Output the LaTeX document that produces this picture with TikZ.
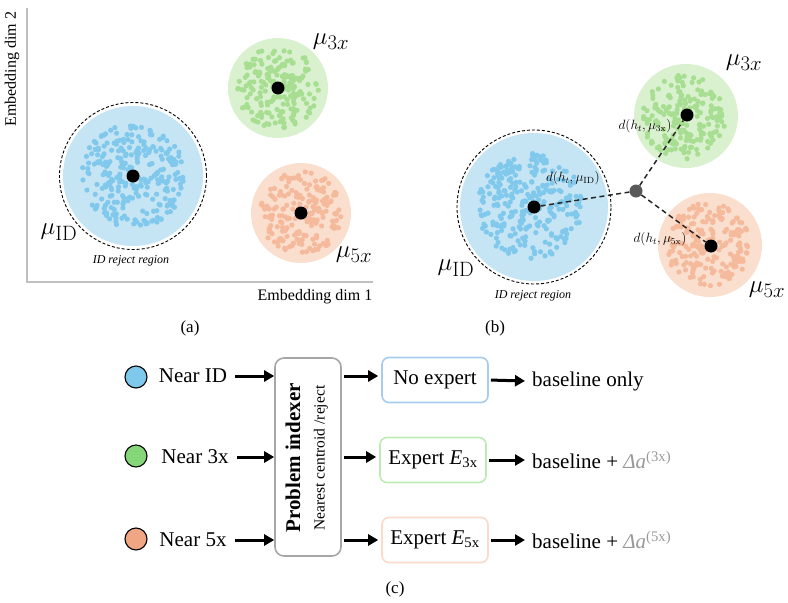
\documentclass[tikz,border=0pt]{standalone}
\usepackage{graphicx}
\usepackage[no-math]{fontspec}
\setmainfont{Liberation Serif}
\usetikzlibrary{arrows.meta}
\definecolor{bfill}{RGB}{197,228,244}
\definecolor{bdot}{RGB}{128,201,236}
\definecolor{gfill}{RGB}{217,241,207}
\definecolor{gdot}{RGB}{168,222,146}
\definecolor{ofill}{RGB}{251,223,206}
\definecolor{odot}{RGB}{245,186,156}
\definecolor{cblue}{RGB}{126,200,235}
\definecolor{cgreen}{RGB}{132,214,120}
\definecolor{corange}{RGB}{240,166,130}
\definecolor{bborder}{RGB}{166,205,240}
\definecolor{gborder}{RGB}{190,234,180}
\definecolor{oborder}{RGB}{251,218,200}
\newcommand\scatterdots[5]{%
  \foreach \i in {1,...,#4}{%
    \pgfmathsetmacro\rr{#3*sqrt(rnd)}%
    \pgfmathsetmacro\aa{360*rnd}%
    \fill[#5] ({#1+\rr*cos(\aa)},{#2+\rr*sin(\aa)}) circle[radius=2.6pt];}}
\newcommand\dlab[1]{\scalebox{1.12}{$#1$}}
\tikzset{
  centroid/.style={circle,fill=black,inner sep=0pt,minimum size=13pt},
  junction/.style={circle,fill=black!65,inner sep=0pt,minimum size=13pt},
  mulabel/.style={font=\fontsize{24.88}{28}\selectfont},
  dlabel/.style={font=\fontsize{12}{14}\selectfont},
  axlabel/.style={font=\fontsize{16}{19}\selectfont},
  rejlabel/.style={font=\fontsize{12}{14}\selectfont\itshape},
  caplabel/.style={font=\fontsize{17}{20}\selectfont},
  rowtext/.style={font=\fontsize{21}{24}\selectfont, inner sep=0pt},
  incirc/.style={circle,draw=black,line width=1.1pt,minimum size=22pt,inner sep=0pt},
  expbox/.style={draw,rounded corners=7pt,line width=1.6pt,minimum width=106pt,minimum height=45pt,font=\fontsize{21}{24}\selectfont,inner sep=0pt},
  arr/.style={line width=3pt,-{Triangle[length=10pt,width=11pt]}},
  dline/.style={line width=1.5pt,dash pattern=on 5pt off 3.5pt,black!85},
}
\begin{document}
\begin{tikzpicture}[x=1pt,y=-1pt]
\useasboundingbox (0,0) rectangle (788,603);
\pgfmathsetseed{4242}
% ---------------- panel (a)
\draw[black!25,line width=1.5pt] (27,8) -- (27,282) -- (373,282);
\node[axlabel,rotate=90] (ay) at (12,69) {Embedding dim 2};
\node[axlabel] (ax) at (315,297) {Embedding dim 1};
\fill[bfill] (133,176) circle[radius=70pt];
\draw[dashed,line width=0.9pt,dash pattern=on 3pt off 2pt] (133,176) circle[radius=73.5pt];
\fill[gfill] (278,88) circle[radius=50pt];
\fill[ofill] (301,213) circle[radius=50pt];
\scatterdots{133}{176}{52}{270}{bdot}
\scatterdots{278}{88}{41}{185}{gdot}
\scatterdots{301}{213}{42}{190}{odot}
\node[centroid] (a1) at (133,176) {};
\node[centroid] (a2) at (278,88) {};
\node[centroid] (a3) at (301,213) {};
\node[mulabel] (am3) at (331,42) {$\mu_{3x}$};
\node[mulabel] (amI) at (59,232) {$\mu_{\mathrm{ID}}$};
\node[mulabel] (am5) at (354,255) {$\mu_{5x}$};
\node[rejlabel] (arej) at (131,261) {ID reject region};
\node[caplabel] (capa) at (190,328) {(a)};
% ---------------- panel (b)
\fill[bfill] (534,207) circle[radius=74pt];
\draw[dashed,line width=0.9pt,dash pattern=on 3pt off 2pt] (534,207) circle[radius=77pt];
\fill[gfill] (686,116) circle[radius=52pt];
\fill[ofill] (710,245) circle[radius=52pt];
\scatterdots{530}{206}{53}{280}{bdot}
\scatterdots{684}{117}{42}{190}{gdot}
\scatterdots{708}{245}{42}{195}{odot}
\node[centroid] (b1) at (534,207) {};
\node[centroid] (b2) at (687,115) {};
\node[centroid] (b3) at (711,246) {};
\node[junction] (jn) at (636,191) {};
\draw[dline] (b1) -- (jn);
\draw[dline] (jn) -- (b2);
\draw[dline] (jn) -- (b3);
\node[dlabel] (dI) at (573,178) {\dlab{d(h_t,\mu_{\mathrm{ID}})}};
\node[dlabel] (d3) at (645,126) {\dlab{d(h_t,\mu_{\mathrm{3x}})}};
\node[dlabel] (d5) at (660,239) {\dlab{d(h_t,\mu_{\mathrm{5x}})}};
\node[mulabel] (bm3) at (744,63) {$\mu_{3x}$};
\node[mulabel] (bmI) at (456,268) {$\mu_{\mathrm{ID}}$};
\node[mulabel] (bm5) at (767,290) {$\mu_{5x}$};
\node[rejlabel] (brej) at (533,296) {ID reject region};
\node[caplabel] (capb) at (495,328) {(b)};
% ---------------- panel (c)
\node[incirc,fill=cblue] (c1) at (136,377) {};
\node[incirc,fill=cgreen] (c2) at (136,456) {};
\node[incirc,fill=corange] (c3) at (136,539) {};
\node[rowtext] (t1) at (193,376) {Near ID};
\node[rowtext] (t2) at (195,457) {Near 3x};
\node[rowtext] (t3) at (193,540) {Near 5x};
\node[draw=black!35,rounded corners=9pt,line width=1.6pt,minimum width=66pt,minimum height=198pt,inner sep=0pt] (pi) at (308,457) {};
\node[rotate=90,font=\fontsize{21}{24}\selectfont\bfseries] (pit) at (293,458) {Problem indexer};
\node[rotate=90,font=\fontsize{15.5}{18}\selectfont] (pis) at (321,458) {Nearest centroid /reject};
\draw[arr] ([xshift=8pt]t1.east) -- (t1.east -| pi.west);
\draw[arr] ([xshift=8pt]t2.east) -- (t2.east -| pi.west);
\draw[arr] ([xshift=8pt]t3.east) -- (t3.east -| pi.west);
\node[expbox,draw=bborder] (e1) at (435,380) {No expert};
\node[expbox,draw=gborder] (e2) at (433,460) {Expert \textit{E}\textsubscript{3x}};
\node[expbox,draw=oborder] (e3) at (435,540) {Expert \textit{E}\textsubscript{5x}};
\draw[arr,shorten <=2pt,shorten >=3pt] (pi.east |- t1) -- (e1.west |- t1);
\draw[arr,shorten <=2pt,shorten >=3pt] (pi.east |- t2) -- (e2.west |- t2);
\draw[arr,shorten <=2pt,shorten >=3pt] (pi.east |- t3) -- (e3.west |- t3);
\node[rowtext,anchor=west] (r1) at (532,381) {baseline only};
\node[rowtext,anchor=west] (r2) at (532,460) {baseline + \textcolor{black!40}{\textit{Δa}\textsuperscript{(3x)}}};
\node[rowtext,anchor=west] (r3) at (532,540) {baseline + \textcolor{black!40}{\textit{Δa}\textsuperscript{(5x)}}};
\draw[arr,shorten <=2pt] (e1.east) -- ([xshift=-7pt]r1.west);
\draw[arr,shorten <=2pt] (e2.east) -- ([xshift=-7pt]r2.west);
\draw[arr,shorten <=2pt] (e3.east) -- ([xshift=-7pt]r3.west);
\node[caplabel] (capc) at (395,589) {(c)};
\end{tikzpicture}
\end{document}
